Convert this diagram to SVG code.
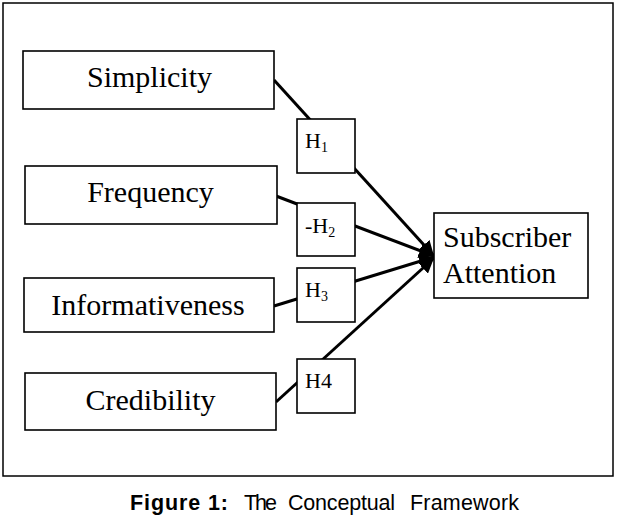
<svg xmlns="http://www.w3.org/2000/svg" width="617" height="520" viewBox="0 0 617 520">
<style>
.box{fill:#fff;stroke:#000;stroke-width:1.6}
.lbl{font-family:"Liberation Serif","Times New Roman",serif;font-size:30px;fill:#000}
.h{font-family:"Liberation Serif","Times New Roman",serif;font-size:22px;fill:#000}
.sub{font-size:14px}
.conn{stroke:#000;stroke-width:3;fill:none;marker-end:url(#arr)}
.cap{font-family:"Liberation Sans",Arial,sans-serif;font-size:21.5px;fill:#000}
</style>
<defs>
<marker id="arr" viewBox="0 0 10 10" refX="10" refY="5" markerWidth="5" markerHeight="5" markerUnits="strokeWidth" orient="auto">
<path d="M0,0 L10,5 L0,10 z" fill="#000"/>
</marker>
</defs>
<rect x="3" y="3" width="610" height="473" fill="#fff" stroke="#000" stroke-width="1.5"/>
<g id="connectors">
<line class="conn" x1="274" y1="80" x2="434" y2="256"/>
<line class="conn" x1="276" y1="196" x2="434" y2="256"/>
<line class="conn" x1="274" y1="306" x2="434" y2="257"/>
<line class="conn" x1="276" y1="402" x2="434" y2="258"/>
</g>
<g id="simplicity"><rect class="box" x="23" y="51" width="251" height="58"/><text class="lbl" x="149.5" y="87" text-anchor="middle">Simplicity</text></g>
<g id="frequency"><rect class="box" x="25" y="166" width="252" height="58"/><text class="lbl" x="150.5" y="202" text-anchor="middle">Frequency</text></g>
<g id="informativeness"><rect class="box" x="24" y="278" width="250" height="54"/><text class="lbl" x="148" y="315" text-anchor="middle">Informativeness</text></g>
<g id="credibility"><rect class="box" x="25" y="373" width="251" height="57"/><text class="lbl" x="150.5" y="410" text-anchor="middle">Credibility</text></g>
<g id="h1"><rect class="box" x="297" y="119" width="58" height="54"/><text class="h" x="305" y="148">H<tspan class="sub" dy="4">1</tspan></text></g>
<g id="h2"><rect class="box" x="297" y="203" width="58" height="53"/><text class="h" x="305" y="233">-H<tspan class="sub" dy="4">2</tspan></text></g>
<g id="h3"><rect class="box" x="297" y="268" width="58" height="54"/><text class="h" x="305" y="297">H<tspan class="sub" dy="4">3</tspan></text></g>
<g id="h4"><rect class="box" x="297" y="359" width="58" height="54"/><text class="h" x="305" y="388">H4</text></g>
<g id="subscriber"><rect class="box" x="434" y="213" width="154" height="85"/><text class="lbl" x="443" y="247">Subscriber</text><text class="lbl" x="443" y="283">Attention</text></g>
<g id="caption">
<text class="cap" x="130" y="510" font-weight="bold" textLength="98" lengthAdjust="spacing">Figure 1:</text>
<text class="cap" x="244" y="510" textLength="33" lengthAdjust="spacing">The</text>
<text class="cap" x="288" y="510" textLength="107" lengthAdjust="spacing">Conceptual</text>
<text class="cap" x="410" y="510" textLength="109" lengthAdjust="spacing">Framework</text>
</g>
</svg>
